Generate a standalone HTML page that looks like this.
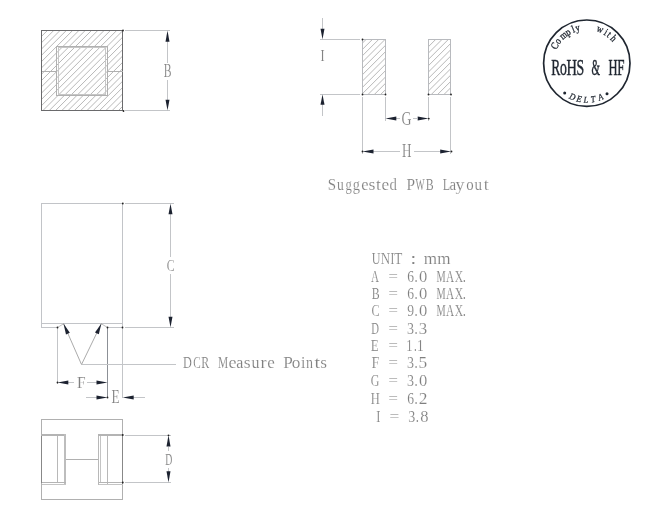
<!DOCTYPE html>
<html><head><meta charset="utf-8"><style>
html,body{margin:0;padding:0;background:#fff;}
svg{display:block;will-change:transform;}
</style></head><body>
<svg width="658" height="520" viewBox="0 0 658 520">
<rect width="658" height="520" fill="#fff"/>
<defs>
<clipPath id="c1"><rect x="41.5" y="30.5" width="81" height="80"/></clipPath>
<clipPath id="c2"><rect x="362.5" y="39.5" width="23" height="55"/></clipPath>
<clipPath id="c3"><rect x="428.5" y="39.5" width="22.3" height="55"/></clipPath>
</defs>
<g clip-path="url(#c1)">
<line x1="-47.17" y1="112.5" x2="36.83" y2="28.5" stroke="#a6a6a6" stroke-width="0.8"/>
<line x1="-40.88" y1="112.5" x2="43.12" y2="28.5" stroke="#a6a6a6" stroke-width="0.8"/>
<line x1="-34.58" y1="112.5" x2="49.42" y2="28.5" stroke="#a6a6a6" stroke-width="0.8"/>
<line x1="-28.29" y1="112.5" x2="55.71" y2="28.5" stroke="#a6a6a6" stroke-width="0.8"/>
<line x1="-21.99" y1="112.5" x2="62.01" y2="28.5" stroke="#a6a6a6" stroke-width="0.8"/>
<line x1="-15.70" y1="112.5" x2="68.30" y2="28.5" stroke="#a6a6a6" stroke-width="0.8"/>
<line x1="-9.40" y1="112.5" x2="74.60" y2="28.5" stroke="#a6a6a6" stroke-width="0.8"/>
<line x1="-3.11" y1="112.5" x2="80.89" y2="28.5" stroke="#a6a6a6" stroke-width="0.8"/>
<line x1="3.19" y1="112.5" x2="87.19" y2="28.5" stroke="#a6a6a6" stroke-width="0.8"/>
<line x1="9.48" y1="112.5" x2="93.48" y2="28.5" stroke="#a6a6a6" stroke-width="0.8"/>
<line x1="15.78" y1="112.5" x2="99.78" y2="28.5" stroke="#a6a6a6" stroke-width="0.8"/>
<line x1="22.07" y1="112.5" x2="106.07" y2="28.5" stroke="#a6a6a6" stroke-width="0.8"/>
<line x1="28.37" y1="112.5" x2="112.37" y2="28.5" stroke="#a6a6a6" stroke-width="0.8"/>
<line x1="34.66" y1="112.5" x2="118.66" y2="28.5" stroke="#a6a6a6" stroke-width="0.8"/>
<line x1="40.96" y1="112.5" x2="124.96" y2="28.5" stroke="#a6a6a6" stroke-width="0.8"/>
<line x1="47.25" y1="112.5" x2="131.25" y2="28.5" stroke="#a6a6a6" stroke-width="0.8"/>
<line x1="53.55" y1="112.5" x2="137.55" y2="28.5" stroke="#a6a6a6" stroke-width="0.8"/>
<line x1="59.84" y1="112.5" x2="143.84" y2="28.5" stroke="#a6a6a6" stroke-width="0.8"/>
<line x1="66.14" y1="112.5" x2="150.14" y2="28.5" stroke="#a6a6a6" stroke-width="0.8"/>
<line x1="72.44" y1="112.5" x2="156.44" y2="28.5" stroke="#a6a6a6" stroke-width="0.8"/>
<line x1="78.73" y1="112.5" x2="162.73" y2="28.5" stroke="#a6a6a6" stroke-width="0.8"/>
<line x1="85.03" y1="112.5" x2="169.03" y2="28.5" stroke="#a6a6a6" stroke-width="0.8"/>
<line x1="91.32" y1="112.5" x2="175.32" y2="28.5" stroke="#a6a6a6" stroke-width="0.8"/>
<line x1="97.61" y1="112.5" x2="181.61" y2="28.5" stroke="#a6a6a6" stroke-width="0.8"/>
<line x1="103.91" y1="112.5" x2="187.91" y2="28.5" stroke="#a6a6a6" stroke-width="0.8"/>
<line x1="110.20" y1="112.5" x2="194.20" y2="28.5" stroke="#a6a6a6" stroke-width="0.8"/>
<line x1="116.50" y1="112.5" x2="200.50" y2="28.5" stroke="#a6a6a6" stroke-width="0.8"/>
<line x1="122.79" y1="112.5" x2="206.79" y2="28.5" stroke="#a6a6a6" stroke-width="0.8"/>
<line x1="129.09" y1="112.5" x2="213.09" y2="28.5" stroke="#a6a6a6" stroke-width="0.8"/>
</g>
<rect x="41.5" y="30.5" width="81" height="80" fill="none" stroke="#6a6a6c" stroke-width="1" shape-rendering="crispEdges"/>
<rect x="56.5" y="46.5" width="51" height="49" fill="none" stroke="#b0b0b0" stroke-width="1" shape-rendering="crispEdges"/>
<rect x="58.5" y="47.5" width="47" height="47" fill="none" stroke="#c6c6c6" stroke-width="1" shape-rendering="crispEdges"/>
<line x1="41.5" y1="71.5" x2="56.5" y2="71.5" stroke="#b0b0b0" stroke-width="1" shape-rendering="crispEdges"/>
<line x1="107.5" y1="71.5" x2="122.5" y2="71.5" stroke="#b0b0b0" stroke-width="1" shape-rendering="crispEdges"/>
<line x1="125" y1="30.5" x2="170" y2="30.5" stroke="#c3c5c8" stroke-width="1" shape-rendering="crispEdges"/>
<line x1="125" y1="110.5" x2="170" y2="110.5" stroke="#c3c5c8" stroke-width="1" shape-rendering="crispEdges"/>
<line x1="167.5" y1="41" x2="167.5" y2="62.5" stroke="#c3c5c8" stroke-width="1" shape-rendering="crispEdges"/>
<line x1="167.5" y1="80" x2="167.5" y2="100" stroke="#c3c5c8" stroke-width="1" shape-rendering="crispEdges"/>
<polygon points="167.50,30.50 165.50,41.80 169.50,41.80" fill="#1c2230"/>
<polygon points="167.50,110.50 169.50,99.80 165.50,99.80" fill="#1c2230"/>
<text x="-0.52" y="0" transform="translate(164.20,77.10) scale(0.650,1)" font-family="Liberation Serif" font-size="18" fill="#808080" stroke="#fff" stroke-width="0.15">B</text>
<g clip-path="url(#c2)">
<line x1="296.34" y1="96.5" x2="355.34" y2="37.5" stroke="#a6a6a6" stroke-width="0.8"/>
<line x1="302.67" y1="96.5" x2="361.67" y2="37.5" stroke="#a6a6a6" stroke-width="0.8"/>
<line x1="309.00" y1="96.5" x2="368.00" y2="37.5" stroke="#a6a6a6" stroke-width="0.8"/>
<line x1="315.33" y1="96.5" x2="374.33" y2="37.5" stroke="#a6a6a6" stroke-width="0.8"/>
<line x1="321.66" y1="96.5" x2="380.66" y2="37.5" stroke="#a6a6a6" stroke-width="0.8"/>
<line x1="327.99" y1="96.5" x2="386.99" y2="37.5" stroke="#a6a6a6" stroke-width="0.8"/>
<line x1="334.32" y1="96.5" x2="393.32" y2="37.5" stroke="#a6a6a6" stroke-width="0.8"/>
<line x1="340.65" y1="96.5" x2="399.65" y2="37.5" stroke="#a6a6a6" stroke-width="0.8"/>
<line x1="346.98" y1="96.5" x2="405.98" y2="37.5" stroke="#a6a6a6" stroke-width="0.8"/>
<line x1="353.31" y1="96.5" x2="412.31" y2="37.5" stroke="#a6a6a6" stroke-width="0.8"/>
<line x1="359.64" y1="96.5" x2="418.64" y2="37.5" stroke="#a6a6a6" stroke-width="0.8"/>
<line x1="365.97" y1="96.5" x2="424.97" y2="37.5" stroke="#a6a6a6" stroke-width="0.8"/>
<line x1="372.30" y1="96.5" x2="431.30" y2="37.5" stroke="#a6a6a6" stroke-width="0.8"/>
<line x1="378.63" y1="96.5" x2="437.63" y2="37.5" stroke="#a6a6a6" stroke-width="0.8"/>
<line x1="384.96" y1="96.5" x2="443.96" y2="37.5" stroke="#a6a6a6" stroke-width="0.8"/>
<line x1="391.29" y1="96.5" x2="450.29" y2="37.5" stroke="#a6a6a6" stroke-width="0.8"/>
</g>
<g clip-path="url(#c3)">
<line x1="359.64" y1="96.5" x2="418.64" y2="37.5" stroke="#a6a6a6" stroke-width="0.8"/>
<line x1="365.97" y1="96.5" x2="424.97" y2="37.5" stroke="#a6a6a6" stroke-width="0.8"/>
<line x1="372.30" y1="96.5" x2="431.30" y2="37.5" stroke="#a6a6a6" stroke-width="0.8"/>
<line x1="378.63" y1="96.5" x2="437.63" y2="37.5" stroke="#a6a6a6" stroke-width="0.8"/>
<line x1="384.96" y1="96.5" x2="443.96" y2="37.5" stroke="#a6a6a6" stroke-width="0.8"/>
<line x1="391.29" y1="96.5" x2="450.29" y2="37.5" stroke="#a6a6a6" stroke-width="0.8"/>
<line x1="397.62" y1="96.5" x2="456.62" y2="37.5" stroke="#a6a6a6" stroke-width="0.8"/>
<line x1="403.95" y1="96.5" x2="462.95" y2="37.5" stroke="#a6a6a6" stroke-width="0.8"/>
<line x1="410.28" y1="96.5" x2="469.28" y2="37.5" stroke="#a6a6a6" stroke-width="0.8"/>
<line x1="416.61" y1="96.5" x2="475.61" y2="37.5" stroke="#a6a6a6" stroke-width="0.8"/>
<line x1="422.94" y1="96.5" x2="481.94" y2="37.5" stroke="#a6a6a6" stroke-width="0.8"/>
<line x1="429.27" y1="96.5" x2="488.27" y2="37.5" stroke="#a6a6a6" stroke-width="0.8"/>
<line x1="435.60" y1="96.5" x2="494.60" y2="37.5" stroke="#a6a6a6" stroke-width="0.8"/>
<line x1="441.93" y1="96.5" x2="500.93" y2="37.5" stroke="#a6a6a6" stroke-width="0.8"/>
<line x1="448.26" y1="96.5" x2="507.26" y2="37.5" stroke="#a6a6a6" stroke-width="0.8"/>
<line x1="454.59" y1="96.5" x2="513.59" y2="37.5" stroke="#a6a6a6" stroke-width="0.8"/>
<line x1="460.92" y1="96.5" x2="519.92" y2="37.5" stroke="#a6a6a6" stroke-width="0.8"/>
</g>
<rect x="362.5" y="39.5" width="23" height="55" fill="none" stroke="#b8babe" stroke-width="1" shape-rendering="crispEdges"/>
<rect x="428.5" y="39.5" width="22" height="55" fill="none" stroke="#b8babe" stroke-width="1" shape-rendering="crispEdges"/>
<line x1="320" y1="39.5" x2="360" y2="39.5" stroke="#c3c5c8" stroke-width="1" shape-rendering="crispEdges"/>
<line x1="320" y1="94.5" x2="360" y2="94.5" stroke="#c3c5c8" stroke-width="1" shape-rendering="crispEdges"/>
<line x1="322.5" y1="18" x2="322.5" y2="29" stroke="#c3c5c8" stroke-width="1" shape-rendering="crispEdges"/>
<line x1="322.5" y1="104" x2="322.5" y2="116" stroke="#c3c5c8" stroke-width="1" shape-rendering="crispEdges"/>
<polygon points="322.50,39.50 324.50,28.80 320.50,28.80" fill="#1c2230"/>
<polygon points="322.50,94.50 320.50,104.80 324.50,104.80" fill="#1c2230"/>
<text x="-0.63" y="0" transform="translate(321.00,60.80) scale(0.699,1)" font-family="Liberation Serif" font-size="17.5" fill="#808080" stroke="#fff" stroke-width="0.15">I</text>
<line x1="362.5" y1="97" x2="362.5" y2="154" stroke="#c3c5c8" stroke-width="1" shape-rendering="crispEdges"/>
<line x1="450.5" y1="97" x2="450.5" y2="154" stroke="#c3c5c8" stroke-width="1" shape-rendering="crispEdges"/>
<line x1="385.5" y1="97" x2="385.5" y2="121" stroke="#c3c5c8" stroke-width="1" shape-rendering="crispEdges"/>
<line x1="428.5" y1="97" x2="428.5" y2="121" stroke="#c3c5c8" stroke-width="1" shape-rendering="crispEdges"/>
<line x1="396" y1="118.5" x2="400" y2="118.5" stroke="#c3c5c8" stroke-width="1" shape-rendering="crispEdges"/>
<line x1="413" y1="118.5" x2="417" y2="118.5" stroke="#c3c5c8" stroke-width="1" shape-rendering="crispEdges"/>
<polygon points="385.50,118.60 396.30,120.60 396.30,116.60" fill="#1c2230"/>
<polygon points="428.50,118.60 417.70,116.60 417.70,120.60" fill="#1c2230"/>
<text x="-0.74" y="0" transform="translate(402.00,124.60) scale(0.769,1)" font-family="Liberation Serif" font-size="18" fill="#808080" stroke="#fff" stroke-width="0.15">G</text>
<line x1="373" y1="151.5" x2="400" y2="151.5" stroke="#c3c5c8" stroke-width="1" shape-rendering="crispEdges"/>
<line x1="414" y1="151.5" x2="441" y2="151.5" stroke="#c3c5c8" stroke-width="1" shape-rendering="crispEdges"/>
<polygon points="362.50,151.50 373.50,153.50 373.50,149.50" fill="#1c2230"/>
<polygon points="451.00,151.50 440.20,149.50 440.20,153.50" fill="#1c2230"/>
<text x="-0.52" y="0" transform="translate(402.50,157.20) scale(0.728,1)" font-family="Liberation Serif" font-size="18" fill="#808080" stroke="#fff" stroke-width="0.15">H</text>
<text x="-1.06" y="0" transform="translate(328.70,189.50) scale(0.948,1)" font-family="Liberation Serif" font-size="15.8" fill="#808080" stroke="#fff" stroke-width="0.15">S</text>
<text x="-0.21" y="0" transform="translate(337.20,189.50) scale(0.862,1)" font-family="Liberation Serif" font-size="15.8" fill="#808080" stroke="#fff" stroke-width="0.15">u</text>
<text x="-0.68" y="0" transform="translate(346.00,189.50) scale(0.795,1)" font-family="Liberation Serif" font-size="15.8" fill="#808080" stroke="#fff" stroke-width="0.15">g</text>
<text x="-0.68" y="0" transform="translate(353.40,189.50) scale(0.910,1)" font-family="Liberation Serif" font-size="15.8" fill="#808080" stroke="#fff" stroke-width="0.15">g</text>
<text x="-0.62" y="0" transform="translate(361.80,189.50) scale(1.043,1)" font-family="Liberation Serif" font-size="15.8" fill="#808080" stroke="#fff" stroke-width="0.15">e</text>
<text x="-0.65" y="0" transform="translate(369.10,189.50) scale(1.116,1)" font-family="Liberation Serif" font-size="15.8" fill="#808080" stroke="#fff" stroke-width="0.15">s</text>
<text x="-0.15" y="0" transform="translate(376.10,189.50) scale(1.110,1)" font-family="Liberation Serif" font-size="15.8" fill="#808080" stroke="#fff" stroke-width="0.15">t</text>
<text x="-0.62" y="0" transform="translate(382.20,189.50) scale(1.094,1)" font-family="Liberation Serif" font-size="15.8" fill="#808080" stroke="#fff" stroke-width="0.15">e</text>
<text x="-0.57" y="0" transform="translate(390.10,189.50) scale(0.939,1)" font-family="Liberation Serif" font-size="15.8" fill="#808080" stroke="#fff" stroke-width="0.15">d</text>
<text x="-0.46" y="0" transform="translate(406.90,189.60) scale(0.974,1)" font-family="Liberation Serif" font-size="15.8" fill="#808080" stroke="#fff" stroke-width="0.15">P</text>
<text x="-0.02" y="0" transform="translate(415.60,189.60) scale(0.619,1)" font-family="Liberation Serif" font-size="15.8" fill="#808080" stroke="#fff" stroke-width="0.15">W</text>
<text x="-0.46" y="0" transform="translate(426.20,189.60) scale(0.752,1)" font-family="Liberation Serif" font-size="15.8" fill="#808080" stroke="#fff" stroke-width="0.15">B</text>
<text x="-0.46" y="0" transform="translate(443.20,189.50) scale(0.764,1)" font-family="Liberation Serif" font-size="15.8" fill="#808080" stroke="#fff" stroke-width="0.15">L</text>
<text x="-0.56" y="0" transform="translate(449.90,189.50) scale(0.945,1)" font-family="Liberation Serif" font-size="15.8" fill="#808080" stroke="#fff" stroke-width="0.15">a</text>
<text x="-0.19" y="0" transform="translate(455.80,189.50) scale(1.138,1)" font-family="Liberation Serif" font-size="15.8" fill="#808080" stroke="#fff" stroke-width="0.15">y</text>
<text x="-0.60" y="0" transform="translate(466.90,189.50) scale(0.941,1)" font-family="Liberation Serif" font-size="15.8" fill="#808080" stroke="#fff" stroke-width="0.15">o</text>
<text x="-0.21" y="0" transform="translate(474.80,189.50) scale(0.957,1)" font-family="Liberation Serif" font-size="15.8" fill="#808080" stroke="#fff" stroke-width="0.15">u</text>
<text x="-0.15" y="0" transform="translate(483.90,189.50) scale(1.134,1)" font-family="Liberation Serif" font-size="15.8" fill="#808080" stroke="#fff" stroke-width="0.15">t</text>
<circle cx="586.8" cy="63.2" r="43.2" fill="none" stroke="#1f2630" stroke-width="1.7"/>
<text x="0" y="0" transform="translate(557.54,47.51) rotate(-61.80) scale(0.85,1)" text-anchor="middle" font-family="Liberation Serif" font-size="10.3" fill="#1f2630" stroke="#1f2630" stroke-width="0.3">C</text>
<text x="0" y="0" transform="translate(560.43,43.04) rotate(-52.60) scale(0.85,1)" text-anchor="middle" font-family="Liberation Serif" font-size="10.3" fill="#1f2630" stroke="#1f2630" stroke-width="0.3">o</text>
<text x="0" y="0" transform="translate(565.33,37.88) rotate(-40.30) scale(0.85,1)" text-anchor="middle" font-family="Liberation Serif" font-size="10.3" fill="#1f2630" stroke="#1f2630" stroke-width="0.3">m</text>
<text x="0" y="0" transform="translate(569.60,34.80) rotate(-31.20) scale(0.85,1)" text-anchor="middle" font-family="Liberation Serif" font-size="10.3" fill="#1f2630" stroke="#1f2630" stroke-width="0.3">p</text>
<text x="0" y="0" transform="translate(574.47,32.37) rotate(-21.80) scale(0.85,1)" text-anchor="middle" font-family="Liberation Serif" font-size="10.3" fill="#1f2630" stroke="#1f2630" stroke-width="0.3">l</text>
<text x="0" y="0" transform="translate(578.43,31.07) rotate(-14.60) scale(0.85,1)" text-anchor="middle" font-family="Liberation Serif" font-size="10.3" fill="#1f2630" stroke="#1f2630" stroke-width="0.3">y</text>
<text x="0" y="0" transform="translate(598.86,32.27) rotate(21.30) scale(0.85,1)" text-anchor="middle" font-family="Liberation Serif" font-size="10.3" fill="#1f2630" stroke="#1f2630" stroke-width="0.3">w</text>
<text x="0" y="0" transform="translate(604.25,34.95) rotate(31.70) scale(0.85,1)" text-anchor="middle" font-family="Liberation Serif" font-size="10.3" fill="#1f2630" stroke="#1f2630" stroke-width="0.3">i</text>
<text x="0" y="0" transform="translate(607.29,37.07) rotate(38.10) scale(0.85,1)" text-anchor="middle" font-family="Liberation Serif" font-size="10.3" fill="#1f2630" stroke="#1f2630" stroke-width="0.3">t</text>
<text x="0" y="0" transform="translate(611.16,40.64) rotate(47.20) scale(0.85,1)" text-anchor="middle" font-family="Liberation Serif" font-size="10.3" fill="#1f2630" stroke="#1f2630" stroke-width="0.3">h</text>
<text x="0" y="0" transform="translate(571.11,99.45) rotate(23.40) scale(0.92,1)" text-anchor="middle" font-family="Liberation Serif" font-size="9" fill="#1f2630" font-style="italic" stroke="#1f2630" stroke-width="0.25">D</text>
<text x="0" y="0" transform="translate(578.39,101.79) rotate(12.30) scale(0.92,1)" text-anchor="middle" font-family="Liberation Serif" font-size="9" fill="#1f2630" font-style="italic" stroke="#1f2630" stroke-width="0.25">E</text>
<text x="0" y="0" transform="translate(585.83,102.69) rotate(1.40) scale(0.92,1)" text-anchor="middle" font-family="Liberation Serif" font-size="9" fill="#1f2630" font-style="italic" stroke="#1f2630" stroke-width="0.25">L</text>
<text x="0" y="0" transform="translate(593.59,102.11) rotate(-9.90) scale(0.92,1)" text-anchor="middle" font-family="Liberation Serif" font-size="9" fill="#1f2630" font-style="italic" stroke="#1f2630" stroke-width="0.25">T</text>
<text x="0" y="0" transform="translate(601.66,99.80) rotate(-22.10) scale(0.92,1)" text-anchor="middle" font-family="Liberation Serif" font-size="9" fill="#1f2630" font-style="italic" stroke="#1f2630" stroke-width="0.25">A</text>
<circle cx="564.7" cy="92.9" r="1.5" fill="#1f2630"/>
<circle cx="607" cy="93.7" r="1.5" fill="#1f2630"/>
<text x="-0.64" y="0" transform="translate(551.60,74.50) scale(0.606,1)" font-family="Liberation Serif" font-size="22.3" fill="#1f2630" stroke="#1f2630" stroke-width="0.45">R</text>
<text x="-0.85" y="0" transform="translate(560.60,74.50) scale(0.614,1)" font-family="Liberation Serif" font-size="22.3" fill="#1f2630" stroke="#1f2630" stroke-width="0.45">o</text>
<text x="-0.64" y="0" transform="translate(567.00,74.50) scale(0.648,1)" font-family="Liberation Serif" font-size="22.3" fill="#1f2630" stroke="#1f2630" stroke-width="0.45">H</text>
<text x="-1.49" y="0" transform="translate(577.40,74.50) scale(0.619,1)" font-family="Liberation Serif" font-size="22.3" fill="#1f2630" stroke="#1f2630" stroke-width="0.45">S</text>
<text x="-0.85" y="0" transform="translate(591.80,74.50) scale(0.491,1)" font-family="Liberation Serif" font-size="22.3" fill="#1f2630" stroke="#1f2630" stroke-width="0.45">&amp;</text>
<text x="-0.64" y="0" transform="translate(608.80,74.50) scale(0.560,1)" font-family="Liberation Serif" font-size="22.3" fill="#1f2630" stroke="#1f2630" stroke-width="0.45">H</text>
<text x="-0.64" y="0" transform="translate(617.60,74.50) scale(0.584,1)" font-family="Liberation Serif" font-size="22.3" fill="#1f2630" stroke="#1f2630" stroke-width="0.45">F</text>
<rect x="41.5" y="203.5" width="81" height="120" fill="none" stroke="#c2c4c8" stroke-width="1" shape-rendering="crispEdges"/>
<line x1="41.5" y1="323.5" x2="41.5" y2="327.5" stroke="#c2c4c8" stroke-width="1" shape-rendering="crispEdges"/>
<line x1="41.5" y1="327.5" x2="57.5" y2="327.5" stroke="#c2c4c8" stroke-width="1" shape-rendering="crispEdges"/>
<line x1="107.5" y1="327.5" x2="122.5" y2="327.5" stroke="#c2c4c8" stroke-width="1" shape-rendering="crispEdges"/>
<line x1="122.5" y1="323.5" x2="122.5" y2="327.5" stroke="#c2c4c8" stroke-width="1" shape-rendering="crispEdges"/>
<line x1="57.5" y1="327.5" x2="63.5" y2="323.8" stroke="#c0c0c0" stroke-width="1"/>
<line x1="101.4" y1="323.8" x2="107.5" y2="327.5" stroke="#c0c0c0" stroke-width="1"/>
<line x1="125" y1="203.5" x2="173.5" y2="203.5" stroke="#c3c5c8" stroke-width="1" shape-rendering="crispEdges"/>
<line x1="125" y1="327.5" x2="173.5" y2="327.5" stroke="#c3c5c8" stroke-width="1" shape-rendering="crispEdges"/>
<line x1="170.5" y1="214" x2="170.5" y2="256.5" stroke="#c3c5c8" stroke-width="1" shape-rendering="crispEdges"/>
<line x1="170.5" y1="273.5" x2="170.5" y2="317" stroke="#c3c5c8" stroke-width="1" shape-rendering="crispEdges"/>
<polygon points="170.50,203.50 168.50,214.20 172.50,214.20" fill="#1c2230"/>
<polygon points="170.50,327.50 172.50,316.80 168.50,316.80" fill="#1c2230"/>
<text x="-0.72" y="0" transform="translate(167.30,270.60) scale(0.671,1)" font-family="Liberation Serif" font-size="17.5" fill="#808080" stroke="#fff" stroke-width="0.15">C</text>
<line x1="57.5" y1="328" x2="57.5" y2="383.5" stroke="#c3c5c8" stroke-width="1" shape-rendering="crispEdges"/>
<line x1="107.5" y1="328" x2="107.5" y2="398" stroke="#8c9096" stroke-width="1" shape-rendering="crispEdges"/>
<line x1="122.5" y1="328" x2="122.5" y2="398" stroke="#c3c5c8" stroke-width="1" shape-rendering="crispEdges"/>
<line x1="63.5" y1="323.5" x2="81.5" y2="364.5" stroke="#a0a0a0" stroke-width="0.9"/>
<line x1="101.4" y1="323.5" x2="81.5" y2="364.5" stroke="#a0a0a0" stroke-width="0.9"/>
<polygon points="63.50,323.50 65.97,334.44 69.83,332.76" fill="#1c2230"/>
<polygon points="101.40,323.50 94.99,332.53 98.81,334.27" fill="#1c2230"/>
<line x1="81.5" y1="364.5" x2="176" y2="364.5" stroke="#c3c5c8" stroke-width="1" shape-rendering="crispEdges"/>
<text x="-0.48" y="0" transform="translate(183.40,367.80) scale(0.742,1)" font-family="Liberation Serif" font-size="16.5" fill="#808080" stroke="#fff" stroke-width="0.15">D</text>
<text x="-0.68" y="0" transform="translate(193.70,367.80) scale(0.680,1)" font-family="Liberation Serif" font-size="16.5" fill="#808080" stroke="#fff" stroke-width="0.15">C</text>
<text x="-0.48" y="0" transform="translate(201.70,367.80) scale(0.723,1)" font-family="Liberation Serif" font-size="16.5" fill="#808080" stroke="#fff" stroke-width="0.15">R</text>
<text x="-0.48" y="0" transform="translate(218.40,367.60) scale(0.693,1)" font-family="Liberation Serif" font-size="16.5" fill="#808080" stroke="#fff" stroke-width="0.15">M</text>
<text x="-0.64" y="0" transform="translate(229.20,367.60) scale(1.097,1)" font-family="Liberation Serif" font-size="16.5" fill="#808080" stroke="#fff" stroke-width="0.15">e</text>
<text x="-0.58" y="0" transform="translate(236.70,367.60) scale(0.967,1)" font-family="Liberation Serif" font-size="16.5" fill="#808080" stroke="#fff" stroke-width="0.15">a</text>
<text x="-0.68" y="0" transform="translate(244.60,367.60) scale(1.068,1)" font-family="Liberation Serif" font-size="16.5" fill="#808080" stroke="#fff" stroke-width="0.15">s</text>
<text x="-0.22" y="0" transform="translate(251.70,367.60) scale(0.968,1)" font-family="Liberation Serif" font-size="16.5" fill="#808080" stroke="#fff" stroke-width="0.15">u</text>
<text x="-0.33" y="0" transform="translate(260.80,367.60) scale(1.096,1)" font-family="Liberation Serif" font-size="16.5" fill="#808080" stroke="#fff" stroke-width="0.15">r</text>
<text x="-0.64" y="0" transform="translate(267.90,367.60) scale(1.032,1)" font-family="Liberation Serif" font-size="16.5" fill="#808080" stroke="#fff" stroke-width="0.15">e</text>
<text x="-0.48" y="0" transform="translate(283.80,367.80) scale(1.045,1)" font-family="Liberation Serif" font-size="16.5" fill="#808080" stroke="#fff" stroke-width="0.15">P</text>
<text x="-0.63" y="0" transform="translate(292.50,367.80) scale(1.044,1)" font-family="Liberation Serif" font-size="16.5" fill="#808080" stroke="#fff" stroke-width="0.15">o</text>
<text x="-0.35" y="0" transform="translate(301.30,367.80) scale(0.969,1)" font-family="Liberation Serif" font-size="16.5" fill="#808080" stroke="#fff" stroke-width="0.15">i</text>
<text x="-0.38" y="0" transform="translate(306.20,367.80) scale(0.853,1)" font-family="Liberation Serif" font-size="16.5" fill="#808080" stroke="#fff" stroke-width="0.15">n</text>
<text x="-0.16" y="0" transform="translate(314.60,367.80) scale(1.225,1)" font-family="Liberation Serif" font-size="16.5" fill="#808080" stroke="#fff" stroke-width="0.15">t</text>
<text x="-0.68" y="0" transform="translate(321.00,367.80) scale(1.049,1)" font-family="Liberation Serif" font-size="16.5" fill="#808080" stroke="#fff" stroke-width="0.15">s</text>
<line x1="68" y1="382.5" x2="74" y2="382.5" stroke="#c3c5c8" stroke-width="1" shape-rendering="crispEdges"/>
<line x1="87" y1="382.5" x2="97" y2="382.5" stroke="#c3c5c8" stroke-width="1" shape-rendering="crispEdges"/>
<polygon points="57.50,382.50 68.30,384.50 68.30,380.50" fill="#1c2230"/>
<polygon points="107.50,382.50 96.50,380.50 96.50,384.50" fill="#1c2230"/>
<text x="-0.50" y="0" transform="translate(77.40,387.80) scale(0.884,1)" font-family="Liberation Serif" font-size="17.5" fill="#808080" stroke="#fff" stroke-width="0.15">F</text>
<line x1="85.5" y1="397.5" x2="97" y2="397.5" stroke="#c3c5c8" stroke-width="1" shape-rendering="crispEdges"/>
<line x1="133" y1="397.5" x2="144.5" y2="397.5" stroke="#c3c5c8" stroke-width="1" shape-rendering="crispEdges"/>
<polygon points="107.50,397.50 96.50,395.50 96.50,399.50" fill="#1c2230"/>
<polygon points="122.70,397.50 133.70,399.50 133.70,395.50" fill="#1c2230"/>
<text x="-0.52" y="0" transform="translate(112.00,403.00) scale(0.741,1)" font-family="Liberation Serif" font-size="18" fill="#808080" stroke="#fff" stroke-width="0.15">E</text>
<rect x="41.5" y="419.5" width="81" height="80" fill="none" stroke="#b0b0b0" stroke-width="1" shape-rendering="crispEdges"/>
<rect x="41" y="434" width="25" height="2" fill="#b4b4b4"/>
<line x1="41.5" y1="436" x2="41.5" y2="483" stroke="#888888" stroke-width="1" shape-rendering="crispEdges"/>
<line x1="57.5" y1="436" x2="57.5" y2="483" stroke="#b8b8b8" stroke-width="1" shape-rendering="crispEdges"/>
<rect x="64" y="434" width="2" height="51" fill="#bdbdbd"/>
<line x1="41.5" y1="482.5" x2="66" y2="482.5" stroke="#b4b4b4" stroke-width="1" shape-rendering="crispEdges"/>
<line x1="41.5" y1="484.5" x2="66" y2="484.5" stroke="#c4c4c4" stroke-width="1" shape-rendering="crispEdges"/>
<rect x="98" y="434" width="25" height="2" fill="#b4b4b4"/>
<line x1="98.5" y1="436" x2="98.5" y2="485" stroke="#b8b8b8" stroke-width="1" shape-rendering="crispEdges"/>
<line x1="100.5" y1="436" x2="100.5" y2="483" stroke="#c4c4c4" stroke-width="1" shape-rendering="crispEdges"/>
<line x1="107.5" y1="436" x2="107.5" y2="485" stroke="#b8b8b8" stroke-width="1" shape-rendering="crispEdges"/>
<line x1="122.5" y1="434" x2="122.5" y2="485" stroke="#888888" stroke-width="1" shape-rendering="crispEdges"/>
<line x1="98.5" y1="482.5" x2="122.5" y2="482.5" stroke="#b4b4b4" stroke-width="1" shape-rendering="crispEdges"/>
<line x1="98.5" y1="484.5" x2="122.5" y2="484.5" stroke="#c4c4c4" stroke-width="1" shape-rendering="crispEdges"/>
<line x1="66" y1="459.5" x2="98" y2="459.5" stroke="#b0b0b0" stroke-width="1" shape-rendering="crispEdges"/>
<line x1="125" y1="435.5" x2="170.5" y2="435.5" stroke="#c3c5c8" stroke-width="1" shape-rendering="crispEdges"/>
<line x1="125" y1="482.5" x2="170.5" y2="482.5" stroke="#c3c5c8" stroke-width="1" shape-rendering="crispEdges"/>
<line x1="168.5" y1="446.5" x2="168.5" y2="451" stroke="#c3c5c8" stroke-width="1" shape-rendering="crispEdges"/>
<line x1="168.5" y1="468" x2="168.5" y2="471.5" stroke="#c3c5c8" stroke-width="1" shape-rendering="crispEdges"/>
<polygon points="168.50,435.30 166.50,446.60 170.50,446.60" fill="#1c2230"/>
<polygon points="168.50,482.50 170.50,471.30 166.50,471.30" fill="#1c2230"/>
<text x="-0.50" y="0" transform="translate(165.60,464.80) scale(0.560,1)" font-family="Liberation Serif" font-size="17.5" fill="#808080" stroke="#fff" stroke-width="0.15">D</text>
<text x="-0.35" y="0" transform="translate(371.95,263.90) scale(0.731,1)" font-family="Liberation Serif" font-size="16.6" fill="#808080" stroke="#fff" stroke-width="0.15">U</text>
<text x="-0.48" y="0" transform="translate(381.10,263.90) scale(0.791,1)" font-family="Liberation Serif" font-size="16.6" fill="#808080" stroke="#fff" stroke-width="0.15">N</text>
<text x="-0.60" y="0" transform="translate(390.80,263.90) scale(0.691,1)" font-family="Liberation Serif" font-size="16.6" fill="#808080" stroke="#fff" stroke-width="0.15">I</text>
<text x="-0.30" y="0" transform="translate(394.40,263.90) scale(0.795,1)" font-family="Liberation Serif" font-size="16.6" fill="#808080" stroke="#fff" stroke-width="0.15">T</text>
<text x="-1.31" y="0" transform="translate(411.90,263.90) scale(1.331,1)" font-family="Liberation Serif" font-size="16.6" fill="#808080" stroke="#fff" stroke-width="0.15">:</text>
<text x="-0.35" y="0" transform="translate(424.20,263.90) scale(1.032,1)" font-family="Liberation Serif" font-size="16.6" fill="#808080" stroke="#fff" stroke-width="0.15">m</text>
<text x="-0.35" y="0" transform="translate(437.50,263.90) scale(1.032,1)" font-family="Liberation Serif" font-size="16.6" fill="#808080" stroke="#fff" stroke-width="0.15">m</text>
<text x="-0.16" y="0" transform="translate(371.20,281.60) scale(0.666,1)" font-family="Liberation Serif" font-size="16.6" fill="#808080" stroke="#fff" stroke-width="0.15">A</text>
<text x="-0.83" y="0" transform="translate(389.20,281.60) scale(1.036,1)" font-family="Liberation Serif" font-size="16.6" fill="#808080" stroke="#fff" stroke-width="0.15">=</text>
<text x="-0.71" y="0" transform="translate(407.70,281.60) scale(0.818,1)" font-family="Liberation Serif" font-size="16.6" fill="#808080" stroke="#fff" stroke-width="0.15">6</text>
<text x="-1.09" y="0" transform="translate(415.30,281.60) scale(0.765,1)" font-family="Liberation Serif" font-size="16.6" fill="#808080" stroke="#fff" stroke-width="0.15">.</text>
<text x="-0.63" y="0" transform="translate(419.60,281.60) scale(0.995,1)" font-family="Liberation Serif" font-size="16.6" fill="#808080" stroke="#fff" stroke-width="0.15">0</text>
<text x="-0.48" y="0" transform="translate(436.80,281.60) scale(0.623,1)" font-family="Liberation Serif" font-size="16.6" fill="#808080" stroke="#fff" stroke-width="0.15">M</text>
<text x="-0.16" y="0" transform="translate(446.20,281.60) scale(0.675,1)" font-family="Liberation Serif" font-size="16.6" fill="#808080" stroke="#fff" stroke-width="0.15">A</text>
<text x="-0.36" y="0" transform="translate(454.90,281.60) scale(0.698,1)" font-family="Liberation Serif" font-size="16.6" fill="#808080" stroke="#fff" stroke-width="0.15">X</text>
<text x="-1.09" y="0" transform="translate(463.70,281.60) scale(0.765,1)" font-family="Liberation Serif" font-size="16.6" fill="#808080" stroke="#fff" stroke-width="0.15">.</text>
<text x="-0.48" y="0" transform="translate(372.00,299.10) scale(0.716,1)" font-family="Liberation Serif" font-size="16.6" fill="#808080" stroke="#fff" stroke-width="0.15">B</text>
<text x="-0.83" y="0" transform="translate(389.20,299.10) scale(1.036,1)" font-family="Liberation Serif" font-size="16.6" fill="#808080" stroke="#fff" stroke-width="0.15">=</text>
<text x="-0.71" y="0" transform="translate(407.70,299.10) scale(0.818,1)" font-family="Liberation Serif" font-size="16.6" fill="#808080" stroke="#fff" stroke-width="0.15">6</text>
<text x="-1.09" y="0" transform="translate(415.30,299.10) scale(0.765,1)" font-family="Liberation Serif" font-size="16.6" fill="#808080" stroke="#fff" stroke-width="0.15">.</text>
<text x="-0.63" y="0" transform="translate(419.60,299.10) scale(0.995,1)" font-family="Liberation Serif" font-size="16.6" fill="#808080" stroke="#fff" stroke-width="0.15">0</text>
<text x="-0.48" y="0" transform="translate(436.80,299.10) scale(0.623,1)" font-family="Liberation Serif" font-size="16.6" fill="#808080" stroke="#fff" stroke-width="0.15">M</text>
<text x="-0.16" y="0" transform="translate(446.20,299.10) scale(0.675,1)" font-family="Liberation Serif" font-size="16.6" fill="#808080" stroke="#fff" stroke-width="0.15">A</text>
<text x="-0.36" y="0" transform="translate(454.90,299.10) scale(0.698,1)" font-family="Liberation Serif" font-size="16.6" fill="#808080" stroke="#fff" stroke-width="0.15">X</text>
<text x="-1.09" y="0" transform="translate(463.70,299.10) scale(0.765,1)" font-family="Liberation Serif" font-size="16.6" fill="#808080" stroke="#fff" stroke-width="0.15">.</text>
<text x="-0.68" y="0" transform="translate(372.00,316.30) scale(0.739,1)" font-family="Liberation Serif" font-size="16.6" fill="#808080" stroke="#fff" stroke-width="0.15">C</text>
<text x="-0.83" y="0" transform="translate(389.20,316.30) scale(1.036,1)" font-family="Liberation Serif" font-size="16.6" fill="#808080" stroke="#fff" stroke-width="0.15">=</text>
<text x="-0.53" y="0" transform="translate(407.70,316.30) scale(0.819,1)" font-family="Liberation Serif" font-size="16.6" fill="#808080" stroke="#fff" stroke-width="0.15">9</text>
<text x="-1.09" y="0" transform="translate(415.30,316.30) scale(0.765,1)" font-family="Liberation Serif" font-size="16.6" fill="#808080" stroke="#fff" stroke-width="0.15">.</text>
<text x="-0.63" y="0" transform="translate(419.60,316.30) scale(0.995,1)" font-family="Liberation Serif" font-size="16.6" fill="#808080" stroke="#fff" stroke-width="0.15">0</text>
<text x="-0.48" y="0" transform="translate(436.80,316.30) scale(0.623,1)" font-family="Liberation Serif" font-size="16.6" fill="#808080" stroke="#fff" stroke-width="0.15">M</text>
<text x="-0.16" y="0" transform="translate(446.20,316.30) scale(0.675,1)" font-family="Liberation Serif" font-size="16.6" fill="#808080" stroke="#fff" stroke-width="0.15">A</text>
<text x="-0.36" y="0" transform="translate(454.90,316.30) scale(0.698,1)" font-family="Liberation Serif" font-size="16.6" fill="#808080" stroke="#fff" stroke-width="0.15">X</text>
<text x="-1.09" y="0" transform="translate(463.70,316.30) scale(0.765,1)" font-family="Liberation Serif" font-size="16.6" fill="#808080" stroke="#fff" stroke-width="0.15">.</text>
<text x="-0.48" y="0" transform="translate(371.50,333.70) scale(0.645,1)" font-family="Liberation Serif" font-size="16.6" fill="#808080" stroke="#fff" stroke-width="0.15">D</text>
<text x="-0.83" y="0" transform="translate(389.20,333.70) scale(1.036,1)" font-family="Liberation Serif" font-size="16.6" fill="#808080" stroke="#fff" stroke-width="0.15">=</text>
<text x="-0.79" y="0" transform="translate(407.70,333.70) scale(0.846,1)" font-family="Liberation Serif" font-size="16.6" fill="#808080" stroke="#fff" stroke-width="0.15">3</text>
<text x="-1.09" y="0" transform="translate(415.30,333.70) scale(0.765,1)" font-family="Liberation Serif" font-size="16.6" fill="#808080" stroke="#fff" stroke-width="0.15">.</text>
<text x="-0.79" y="0" transform="translate(419.60,333.70) scale(1.021,1)" font-family="Liberation Serif" font-size="16.6" fill="#808080" stroke="#fff" stroke-width="0.15">3</text>
<text x="-0.48" y="0" transform="translate(371.20,350.90) scale(0.781,1)" font-family="Liberation Serif" font-size="16.6" fill="#808080" stroke="#fff" stroke-width="0.15">E</text>
<text x="-0.83" y="0" transform="translate(389.20,350.90) scale(1.036,1)" font-family="Liberation Serif" font-size="16.6" fill="#808080" stroke="#fff" stroke-width="0.15">=</text>
<text x="-1.46" y="0" transform="translate(407.40,350.90) scale(0.753,1)" font-family="Liberation Serif" font-size="16.6" fill="#808080" stroke="#fff" stroke-width="0.15">1</text>
<text x="-1.09" y="0" transform="translate(414.80,350.90) scale(0.663,1)" font-family="Liberation Serif" font-size="16.6" fill="#808080" stroke="#fff" stroke-width="0.15">.</text>
<text x="-1.46" y="0" transform="translate(418.10,350.90) scale(0.804,1)" font-family="Liberation Serif" font-size="16.6" fill="#808080" stroke="#fff" stroke-width="0.15">1</text>
<text x="-0.48" y="0" transform="translate(372.00,368.30) scale(0.858,1)" font-family="Liberation Serif" font-size="16.6" fill="#808080" stroke="#fff" stroke-width="0.15">F</text>
<text x="-0.83" y="0" transform="translate(389.20,368.30) scale(1.036,1)" font-family="Liberation Serif" font-size="16.6" fill="#808080" stroke="#fff" stroke-width="0.15">=</text>
<text x="-0.79" y="0" transform="translate(407.70,368.30) scale(0.846,1)" font-family="Liberation Serif" font-size="16.6" fill="#808080" stroke="#fff" stroke-width="0.15">3</text>
<text x="-1.09" y="0" transform="translate(415.30,368.30) scale(0.765,1)" font-family="Liberation Serif" font-size="16.6" fill="#808080" stroke="#fff" stroke-width="0.15">.</text>
<text x="-0.96" y="0" transform="translate(419.60,368.30) scale(1.047,1)" font-family="Liberation Serif" font-size="16.6" fill="#808080" stroke="#fff" stroke-width="0.15">5</text>
<text x="-0.68" y="0" transform="translate(371.20,385.90) scale(0.723,1)" font-family="Liberation Serif" font-size="16.6" fill="#808080" stroke="#fff" stroke-width="0.15">G</text>
<text x="-0.83" y="0" transform="translate(389.20,385.90) scale(1.036,1)" font-family="Liberation Serif" font-size="16.6" fill="#808080" stroke="#fff" stroke-width="0.15">=</text>
<text x="-0.79" y="0" transform="translate(407.70,385.90) scale(0.846,1)" font-family="Liberation Serif" font-size="16.6" fill="#808080" stroke="#fff" stroke-width="0.15">3</text>
<text x="-1.09" y="0" transform="translate(415.30,385.90) scale(0.765,1)" font-family="Liberation Serif" font-size="16.6" fill="#808080" stroke="#fff" stroke-width="0.15">.</text>
<text x="-0.63" y="0" transform="translate(419.60,385.90) scale(0.995,1)" font-family="Liberation Serif" font-size="16.6" fill="#808080" stroke="#fff" stroke-width="0.15">0</text>
<text x="-0.48" y="0" transform="translate(371.20,403.90) scale(0.753,1)" font-family="Liberation Serif" font-size="16.6" fill="#808080" stroke="#fff" stroke-width="0.15">H</text>
<text x="-0.83" y="0" transform="translate(389.20,403.90) scale(1.036,1)" font-family="Liberation Serif" font-size="16.6" fill="#808080" stroke="#fff" stroke-width="0.15">=</text>
<text x="-0.71" y="0" transform="translate(407.70,403.90) scale(0.818,1)" font-family="Liberation Serif" font-size="16.6" fill="#808080" stroke="#fff" stroke-width="0.15">6</text>
<text x="-1.09" y="0" transform="translate(415.30,403.90) scale(0.765,1)" font-family="Liberation Serif" font-size="16.6" fill="#808080" stroke="#fff" stroke-width="0.15">.</text>
<text x="-0.73" y="0" transform="translate(419.60,403.90) scale(1.052,1)" font-family="Liberation Serif" font-size="16.6" fill="#808080" stroke="#fff" stroke-width="0.15">2</text>
<text x="-0.60" y="0" transform="translate(376.60,421.90) scale(0.760,1)" font-family="Liberation Serif" font-size="16.6" fill="#808080" stroke="#fff" stroke-width="0.15">I</text>
<text x="-0.83" y="0" transform="translate(390.37,421.90) scale(1.036,1)" font-family="Liberation Serif" font-size="16.6" fill="#808080" stroke="#fff" stroke-width="0.15">=</text>
<text x="-0.79" y="0" transform="translate(409.00,421.90) scale(0.846,1)" font-family="Liberation Serif" font-size="16.6" fill="#808080" stroke="#fff" stroke-width="0.15">3</text>
<text x="-1.09" y="0" transform="translate(416.60,421.90) scale(0.765,1)" font-family="Liberation Serif" font-size="16.6" fill="#808080" stroke="#fff" stroke-width="0.15">.</text>
<text x="-0.63" y="0" transform="translate(420.90,421.90) scale(0.995,1)" font-family="Liberation Serif" font-size="16.6" fill="#808080" stroke="#fff" stroke-width="0.15">8</text>
<circle cx="123" cy="30.5" r="0.9" fill="#222"/>
<circle cx="123.5" cy="111" r="0.9" fill="#222"/>
<circle cx="362.5" cy="39.5" r="0.9" fill="#222"/>
<circle cx="362.5" cy="94.5" r="0.9" fill="#222"/>
<circle cx="385.5" cy="94.5" r="0.9" fill="#222"/>
<circle cx="428.5" cy="94.5" r="0.9" fill="#222"/>
<circle cx="451" cy="94.5" r="0.9" fill="#222"/>
<circle cx="428.8" cy="118.6" r="0.9" fill="#222"/>
<circle cx="451.5" cy="151.5" r="0.9" fill="#222"/>
<circle cx="362.5" cy="151.5" r="0.9" fill="#222"/>
<circle cx="122.8" cy="203.5" r="0.9" fill="#222"/>
<circle cx="57.5" cy="327.5" r="0.9" fill="#222"/>
<circle cx="107.5" cy="327.5" r="0.9" fill="#222"/>
<circle cx="122.5" cy="327.5" r="0.9" fill="#222"/>
<circle cx="57.5" cy="382.5" r="0.9" fill="#222"/>
<circle cx="107.5" cy="397.5" r="0.9" fill="#222"/>
<circle cx="122.8" cy="435" r="0.9" fill="#222"/>
<circle cx="122.8" cy="482.5" r="0.9" fill="#222"/>
<circle cx="168.5" cy="435.3" r="0.9" fill="#222"/>
</svg>
</body></html>
